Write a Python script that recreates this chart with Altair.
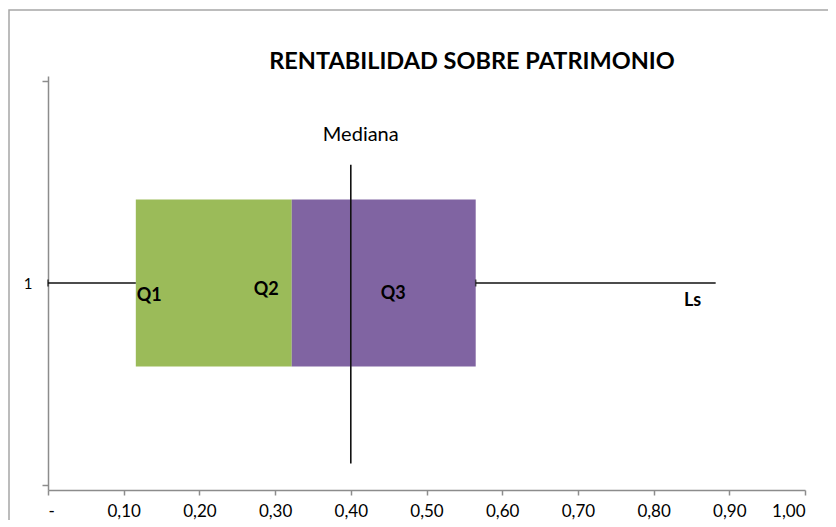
import altair as alt
import pandas as pd

# ---- data ----
categoria = [1]
minimo = [0.0]
q1 = [0.116]
q2 = [0.322]
q3 = [0.565]
ls = [0.882]
mediana = [0.40]
mediana_y = [0.106, 1.585]   # extent of the median series on the category axis

seg_nombre = ["Q1-Q2", "Q2-Q3"]
seg_color = ["#9BBB59", "#8064A2"]

x_ticks = [0.0, 0.1, 0.2, 0.3, 0.4, 0.5, 0.6, 0.7, 0.8, 0.9, 1.0]
y_ticks = [0, 1, 2]

titulo = "RENTABILIDAD SOBRE PATRIMONIO"

FONT = "Lato"
W, H = 757, 414

segs = pd.DataFrame({
    "seg": seg_nombre,
    "ini": [q1[0], q2[0]],
    "fin": [q2[0], q3[0]],
    "y": [categoria[0], categoria[0]],
})
bigotes = pd.DataFrame({
    "ini": [minimo[0], q3[0]],
    "fin": [q1[0], ls[0]],
    "y": [categoria[0], categoria[0]],
})
caps = pd.DataFrame({"x": [minimo[0], q3[0]], "y": [categoria[0], categoria[0]]})
med = pd.DataFrame({"x": [mediana[0]], "y": [mediana_y[0]], "y2": [mediana_y[1]]})

xscale = alt.Scale(domain=[0, 1], nice=False, zero=False)
yscale = alt.Scale(domain=[0, 2], nice=False, zero=False)

xaxis = alt.Axis(
    values=x_ticks, title=None, grid=False,
    labelExpr="datum.value == 0 ? '-' : replace(format(datum.value, '.2f'), '.', ',')",
    domainColor="#8c8c8c", tickColor="#8c8c8c", tickSize=5, domainWidth=1.5, tickWidth=1.5,
    labelFont=FONT, labelFontSize=17, labelColor="#000", labelPadding=8,
)
yaxis = alt.Axis(
    values=y_ticks, title=None, grid=False,
    labelExpr="datum.value == 1 ? '1' : ''",
    domainColor="#8c8c8c", tickSize=6, domainWidth=1.5, tickWidth=1.5,
    tickColor={"condition": {"test": "datum.value == 1", "value": "transparent"}, "value": "#8c8c8c"},
    labelFont=FONT, labelFontSize=15, labelColor="#000", labelPadding=10,
)

box = alt.Chart(segs).mark_bar(size=167).encode(
    x=alt.X("ini:Q", scale=xscale, axis=xaxis),
    x2="fin:Q",
    y=alt.Y("y:Q", scale=yscale, axis=yaxis),
    color=alt.Color("seg:N", scale=alt.Scale(domain=seg_nombre, range=seg_color), legend=None),
)

whisk = alt.Chart(bigotes).mark_rule(color="#111", strokeWidth=1.6).encode(
    x=alt.X("ini:Q", scale=xscale), x2="fin:Q", y=alt.Y("y:Q", scale=yscale)
)

capm = alt.Chart(caps).mark_tick(color="#111", orient="vertical", size=7, thickness=1.6).encode(
    x=alt.X("x:Q", scale=xscale), y=alt.Y("y:Q", scale=yscale)
)

medline = alt.Chart(med).mark_rule(color="#111", strokeWidth=1.6).encode(
    x=alt.X("x:Q", scale=xscale), y=alt.Y("y:Q", scale=yscale), y2="y2:Q"
)


def label(text, xv, yv, align, dx, dy, bold=True, size=18):
    df = pd.DataFrame({"x": [xv], "y": [yv], "t": [text]})
    return alt.Chart(df).mark_text(
        align=align, baseline="middle", dx=dx, dy=dy, font=FONT, fontSize=size,
        fontWeight="bold" if bold else "normal", color="#000",
    ).encode(x=alt.X("x:Q", scale=xscale), y=alt.Y("y:Q", scale=yscale), text="t:N")


labels = [
    label("Q1", q1[0], categoria[0], "left", 1, 13),
    label("Q2", q2[0], categoria[0], "right", -13, 7),
    label("Q3", q3[0], categoria[0], "right", -70, 11),
    label("Ls", ls[0], categoria[0], "center", -23, 18),
    label("Mediana", mediana[0], mediana_y[1], "center", 10, -30, bold=False, size=20),
]

title_mark = alt.Chart(pd.DataFrame({"t": [titulo]})).mark_text(
    font=FONT, fontSize=23.5, fontWeight="bold", color="#000", align="center", baseline="middle"
).encode(x=alt.value(424), y=alt.value(-14), text="t:N")

border = alt.Chart(pd.DataFrame({"a": [0]})).mark_rect(
    fillOpacity=0, stroke="#a6a6a6", strokeWidth=1.5, clip=False
).encode(x=alt.value(-39), x2=alt.value(W + 200), y=alt.value(-66), y2=alt.value(H + 200))

chart = alt.layer(box, whisk, capm, medline, *labels, title_mark, border).properties(
    width=W, height=H,
    autosize=alt.AutoSizeParams(type="none"),
    padding={"left": 40, "top": 68, "right": 23, "bottom": 30},
).configure_view(stroke=None)

chart.save("out.html", embed_options={"renderer": "svg", "actions": False})
